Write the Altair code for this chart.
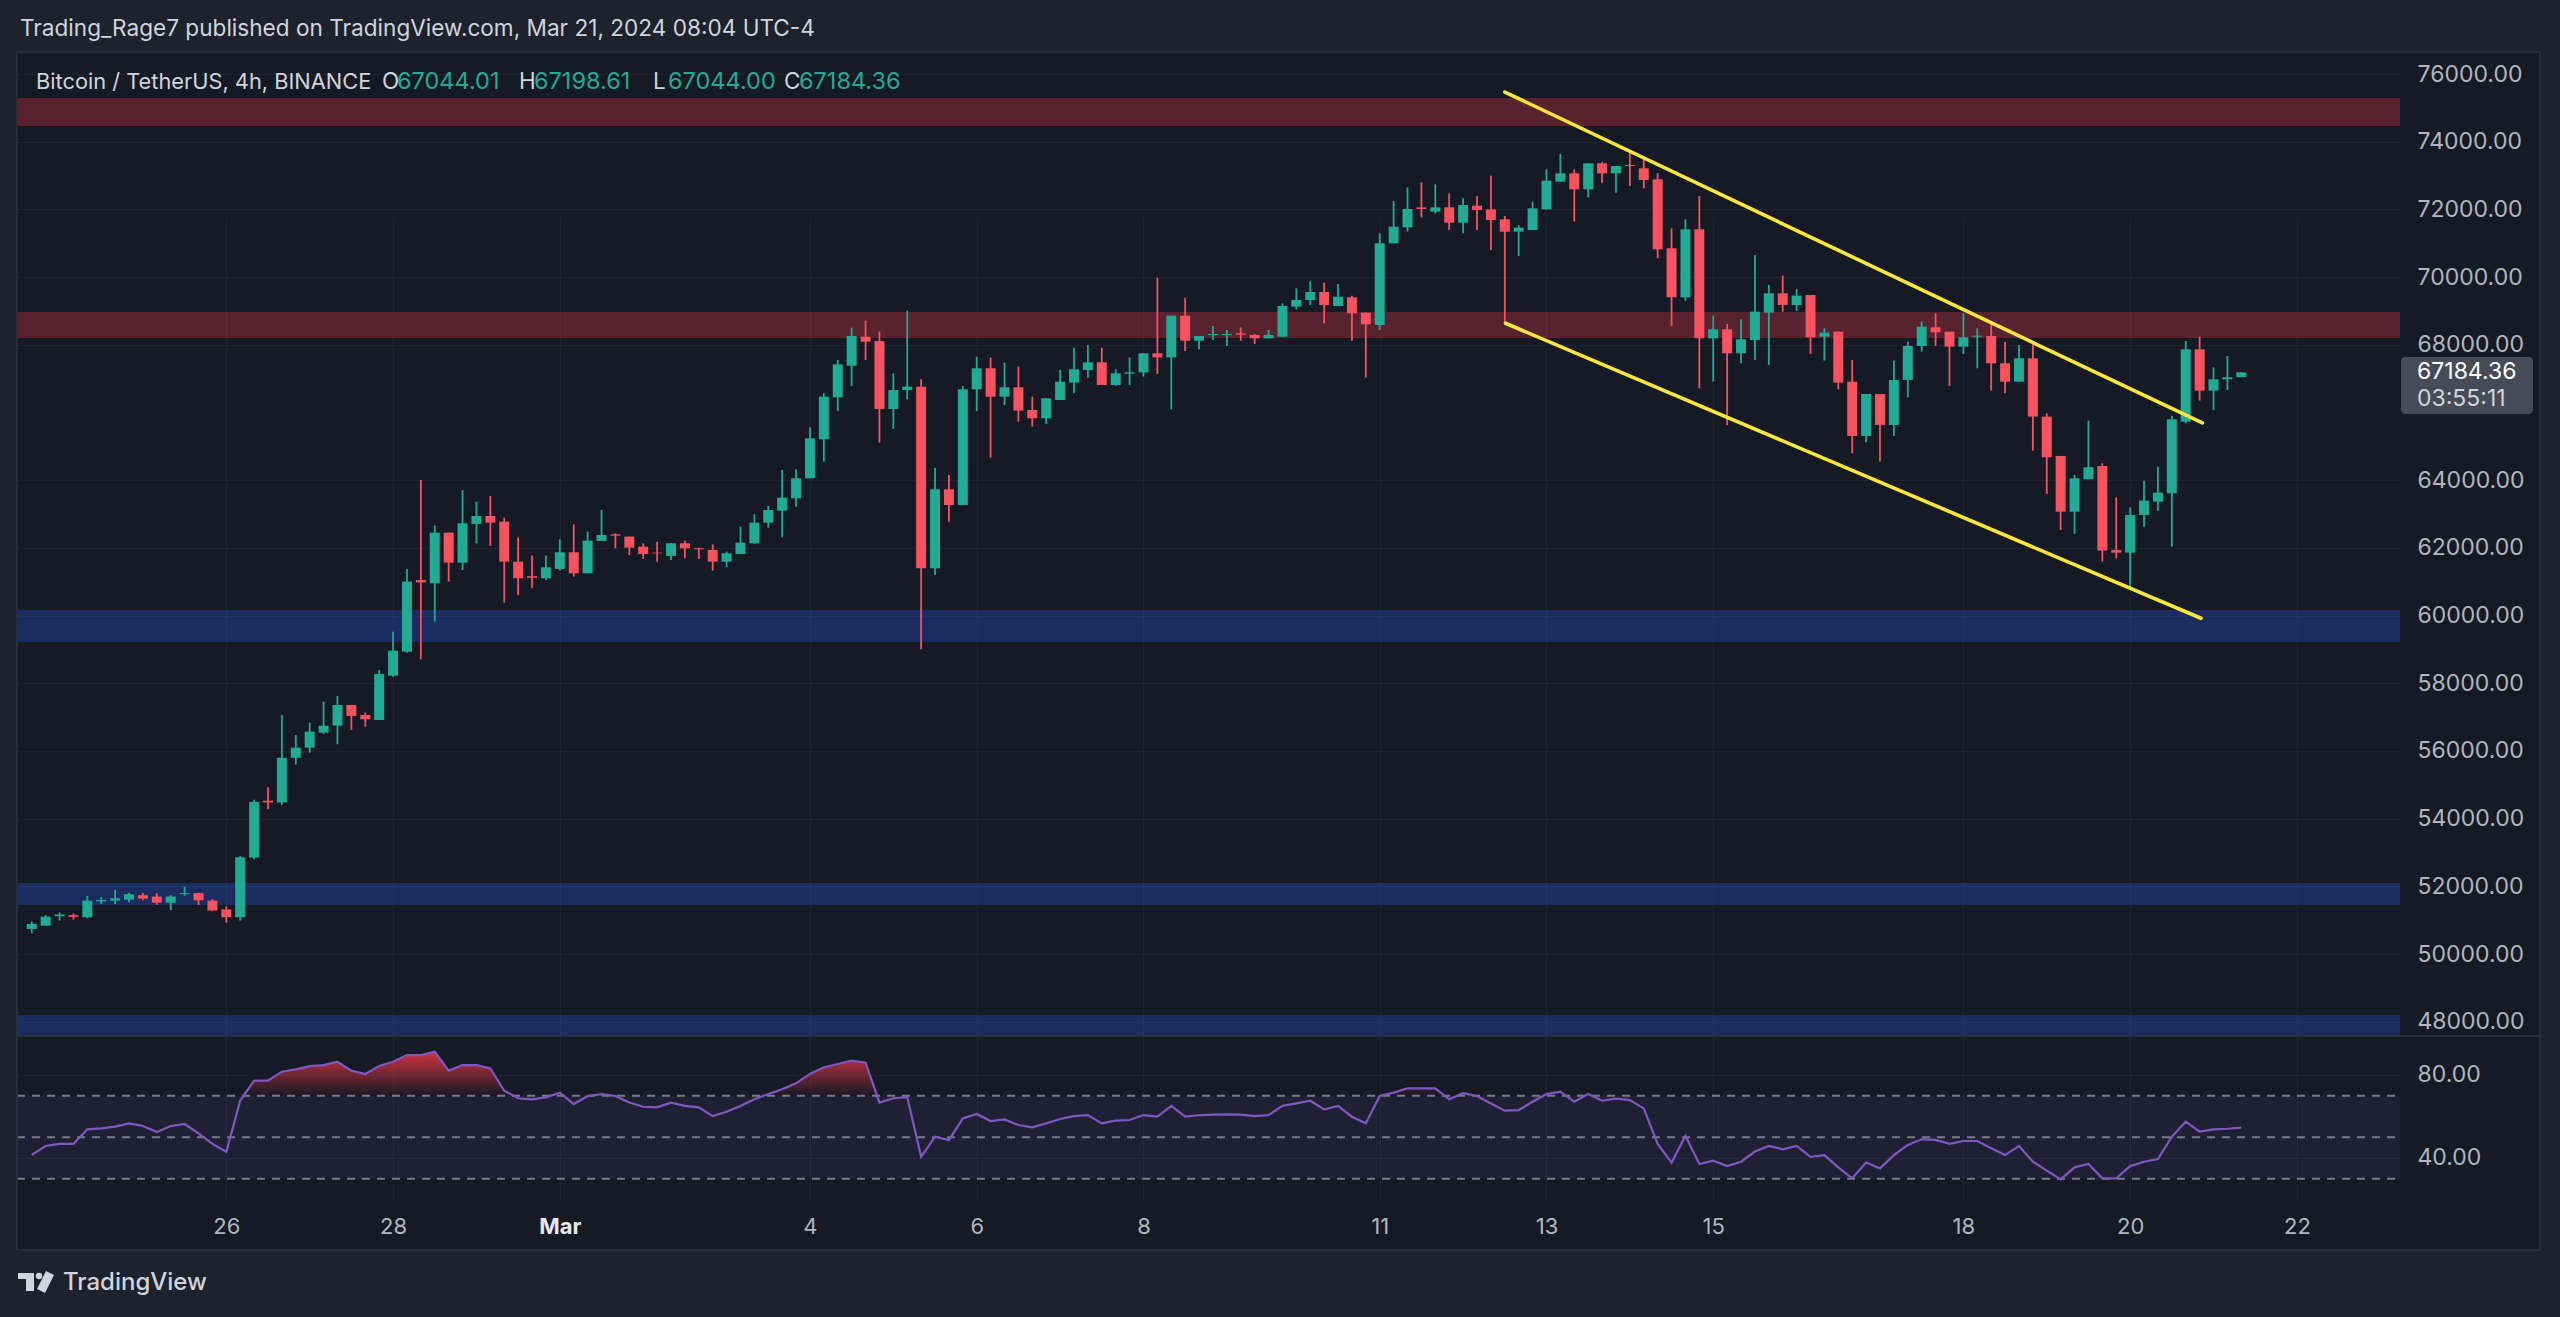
import altair as alt
import pandas as pd

# ---------------- data ----------------
opens = [50743, 50841, 51120, 51150, 51090, 51560, 51580, 51610, 51740, 51700,
         51520, 51770, 51800, 51580, 51320, 51090, 52850, 54530, 54480, 55800,
         56100, 56543, 56749, 57360, 57065, 56917, 58227, 58936, 61050, 60954,
         62451, 61565, 62707, 62943, 62776, 61594, 61160, 61102, 61378, 61870,
         61250, 62205, 62400, 62333, 62037, 61860, 61762, 62136, 61990, 61939,
         61594, 61821, 62136, 62746, 63101, 63465, 64056, 65208, 66448, 67384,
         68240, 68113, 66104, 66665, 66764, 61397, 63730, 63268, 66685, 67305,
         66468, 66744, 66074, 65828, 66370, 66882, 67256, 67482, 66813, 67147,
         67187, 67748, 67630, 68861, 68122, 68290, 68290, 68340, 68290, 68191,
         68240, 69127, 69323, 69560, 69147, 69402, 68950, 68586, 70998, 71471,
         72060, 71933, 72062, 71608, 72111, 72002, 71707, 71343, 71392, 72002,
         72820, 73066, 72593, 73361, 73066, 73312, 73214, 72889, 70850, 69403,
         71412, 68192, 68458, 67749, 68143, 68950, 69521, 69176, 69472, 68241,
         68389, 66912, 65307, 66547, 65632, 66961, 67965, 68517, 68389, 67946,
         68241, 68261, 67453, 66912, 67601, 65878, 64716, 63071, 64027, 64421,
         61940, 61860, 62973, 63367, 63613, 65730, 67867, 66646, 66981, 67044.01]
highs = [50960, 51150, 51230, 51200, 51720, 51680, 51900, 51810, 51810, 51800,
         51750, 51990, 51810, 51620, 51410, 52900, 54560, 54930, 57065, 56474,
         56838, 57459, 57626, 57360, 57134, 58394, 59526, 61378, 64007, 62658,
         62451, 63711, 63367, 63534, 62894, 62313, 61772, 61772, 62254, 62697,
         62481, 63121, 62431, 62333, 62136, 62185, 62136, 62215, 62008, 62106,
         61890, 62628, 62993, 63239, 64302, 64322, 65562, 66567, 67551, 68506,
         68713, 68388, 67157, 69009, 66980, 64371, 64154, 66783, 67650, 67620,
         67472, 67354, 66468, 66419, 67256, 67915, 67994, 67915, 67276, 67630,
         67748, 69983, 68861, 69393, 68260, 68555, 68437, 68516, 68320, 68437,
         69225, 69668, 69885, 69836, 69797, 69452, 68950, 71293, 72249, 72652,
         72800, 72741, 72475, 72327, 72396, 72997, 71805, 71540, 72229, 73184,
         73637, 73184, 73361, 73411, 73283, 73755, 73480, 73066, 71441, 71707,
         72396, 68861, 68615, 68753, 70654, 69767, 70043, 69650, 69472, 68487,
         68389, 67552, 66547, 66547, 67532, 68093, 68684, 68930, 68389, 68930,
         68487, 68635, 68093, 67995, 68113, 65976, 64716, 64155, 65760, 64499,
         63495, 63199, 63987, 64400, 65898, 68113, 68241, 67335, 67670, 67198.61]
lows = [50617, 50830, 50990, 51020, 51060, 51480, 51480, 51530, 51590, 51450,
        51300, 51720, 51450, 51270, 50930, 50990, 52800, 54280, 54400, 55600,
        55950, 56504, 56200, 56622, 56720, 56917, 58197, 58906, 58709, 59822,
        61004, 61348, 62136, 62057, 60383, 60610, 60807, 61053, 61328, 61151,
        61250, 62205, 61988, 61791, 61673, 61594, 61644, 61693, 61673, 61328,
        61427, 61821, 62116, 62599, 62313, 63219, 64056, 64548, 66045, 66783,
        67551, 65109, 65513, 66389, 59004, 61200, 62776, 63268, 66045, 64666,
        66222, 65730, 65582, 65661, 66370, 66566, 67029, 66813, 66793, 66813,
        67059, 67138, 66094, 67817, 67866, 68142, 67965, 68122, 68024, 68191,
        68240, 69048, 69176, 68635, 69147, 68123, 67030, 68438, 70998, 71343,
        71766, 71884, 71392, 71293, 71392, 70801, 68635, 70624, 71392, 71983,
        72820, 71638, 72357, 72790, 72495, 72692, 72623, 70555, 68556, 69304,
        66715, 66911, 65631, 67453, 67552, 67404, 68980, 69000, 67729, 67532,
        66685, 64795, 65120, 64549, 65307, 66449, 67798, 67965, 66784, 67729,
        67306, 66646, 66567, 66912, 64873, 63593, 62530, 62412, 64027, 61594,
        61693, 60807, 62628, 63101, 62037, 65681, 66350, 66075, 66665, 67044.00]
closes = [50891, 51107, 51170, 51100, 51580, 51600, 51650, 51770, 51640, 51520,
          51700, 51800, 51590, 51290, 51090, 52860, 54500, 54480, 55800, 56100,
          56572, 56749, 57360, 57035, 56937, 58276, 58965, 61004, 60980, 62451,
          61565, 62727, 62943, 62746, 61594, 61102, 61120, 61427, 61870, 61250,
          62215, 62382, 62362, 62008, 61821, 61840, 62136, 61988, 61960, 61594,
          61841, 62156, 62746, 63121, 63485, 64056, 65237, 66468, 67423, 68260,
          68093, 66104, 66665, 66764, 61397, 63730, 63268, 66685, 67305, 66468,
          66744, 66055, 65828, 66419, 66911, 67276, 67482, 66813, 67157, 67187,
          67748, 67630, 68861, 68122, 68260, 68320, 68320, 68300, 68191, 68290,
          69146, 69323, 69560, 69176, 69422, 68930, 68605, 70998, 71490, 72012,
          72012, 72060, 71608, 72130, 71983, 71687, 71343, 71460, 72032, 72849,
          73066, 72593, 73361, 73066, 73283, 73283, 72869, 70821, 69403, 71412,
          68192, 68458, 67749, 68162, 68979, 69521, 69176, 69452, 68221, 68359,
          66882, 65307, 66547, 65632, 66961, 67965, 68536, 68369, 67946, 68221,
          68270, 67453, 66912, 67601, 65878, 64677, 63071, 64057, 64381, 61920,
          61860, 62973, 63396, 63633, 65799, 67867, 66646, 66981, 67040, 67184.36]
rsi = [41.5, 45.8, 46.8, 46.8, 53.8, 54.3, 55.1, 56.7, 55.4, 52.5,
       55.4, 56.4, 51.9, 46.8, 43.0, 67.6, 77.3, 77.3, 81.6, 82.7,
       84.3, 84.8, 86.4, 82.1, 80.5, 84.3, 86.4, 89.6, 89.6, 91.2,
       82.1, 84.8, 84.8, 83.2, 72.4, 68.8, 68.3, 69.2, 71.5, 66.0,
       69.9, 70.8, 69.9, 66.7, 64.7, 64.4, 66.7, 65.1, 64.4, 60.2,
       62.3, 65.1, 68.3, 70.8, 73.1, 76.0, 80.5, 83.7, 85.3, 86.9,
       85.9, 66.7, 68.8, 69.3, 40.6, 50.3, 48.7, 59.1, 61.2, 57.8,
       58.6, 55.9, 54.8, 56.7, 58.8, 60.2, 60.7, 56.7, 58.0, 58.3,
       60.7, 59.9, 65.1, 59.9, 60.6, 60.9, 61.0, 60.9, 60.2, 60.7,
       65.1, 66.3, 67.6, 63.4, 65.1, 59.9, 56.7, 69.9, 71.5, 73.6,
       73.6, 73.6, 68.3, 71.2, 69.9, 66.3, 62.8, 63.1, 67.1, 70.8,
       72.0, 67.1, 70.8, 67.6, 68.6, 67.9, 63.9, 46.8, 37.8, 50.6,
       37.1, 38.7, 36.1, 38.2, 43.1, 45.8, 44.2, 45.8, 40.6, 41.4,
       35.5, 30.2, 37.8, 35.0, 41.4, 46.3, 49.0, 48.7, 46.8, 48.2,
       48.2, 44.7, 41.4, 45.8, 38.2, 33.9, 29.7, 35.5, 37.1, 30.2,
       30.2, 36.1, 38.2, 39.5, 50.3, 57.5, 52.7, 53.8, 54.1, 54.6]

tick_index = [14, 26, 38, 56, 68, 80, 97, 109, 121, 139, 151, 163]
tick_label = ["26", "28", "Mar", "4", "6", "8", "11", "13", "15", "18", "20", "22"]
month_tick = 38

zone_lo = [74464, 68201, 59221, 51452, 47610]
zone_hi = [75291, 68969, 60167, 52102, 48203]
zone_kind = ["resistance", "resistance", "support", "support", "support"]

channel_x1 = [106.0, 106.05]
channel_p1 = [75468, 68636]
channel_x2 = [156.2, 156.1]
channel_p2 = [65690, 59921]

# 66000 sits under the current-price tag in the reference, so it is not shown
price_ticks = [v for v in range(48000, 76001, 2000) if v != 66000]
rsi_ticks = [40, 80]
rsi_levels = [70, 50, 30]

header = "Trading_Rage7 published on TradingView.com, Mar 21, 2024 08:04 UTC-4"
symbol = "Bitcoin / TetherUS, 4h, BINANCE"
ohlc_letters = ["O", "H", "L", "C"]
ohlc_values = [opens[-1], highs[-1], lows[-1], closes[-1]]
timer = "03:55:11"

# ---------------- style / layout ----------------
W, H = 2383, 1148
BG = "#161a25"
OUTER = "#1e222d"
BORDER = "#2a2e39"
GRID = "#1f2331"
AXIS_TXT = "#b2b5be"
TXT = "#d1d4dc"
UP = "#22ab94"
DOWN = "#f7525f"
YELLOW = "#fbe73b"
FONT = "Inter"

xscale = alt.Scale(domain=[-0.702, 170.06], nice=False, zero=False)
label_expr = "".join(f"datum.value == {t} ? '{l}' : " for t, l in zip(tick_index, tick_label)) + "''"
x_axis = alt.Axis(values=tick_index, labelExpr=label_expr, title=None, grid=True,
                  gridColor=GRID, gridWidth=1, domain=False, ticks=False, tickSize=0,
                  labelPadding=26, labelBaseline="middle", labelFont=FONT, labelFontSize=22,
                  labelColor={"condition": {"test": f"datum.value == {month_tick}", "value": "#e6e8ee"}, "value": AXIS_TXT},
                  labelFontWeight={"condition": {"test": f"datum.value == {month_tick}", "value": "bold"}, "value": "normal"},
                  labelFlush=False, labelOverlap=False)


def X(field):
    return alt.X(f"{field}:Q", scale=xscale, axis=x_axis)


pscale = alt.Scale(domain=[47610, 76650], range=[983, 0], nice=False, zero=False)
p_axis = alt.Axis(orient="right", values=price_ticks, format=".2f", title=None, grid=True,
                  gridColor=GRID, domain=False, ticks=False, tickSize=0, labelPadding=17,
                  labelFont=FONT, labelFontSize=23, labelColor=AXIS_TXT, labelBaseline="middle",
                  labelFlush=False, labelOverlap=False)


def PY(field):
    return alt.Y(f"{field}:Q", scale=pscale, axis=p_axis)


rscale = alt.Scale(domain=[19.76, 98.31], range=[1148, 985], nice=False, zero=False)
r_axis = alt.Axis(orient="right", values=rsi_ticks, format=".2f", title=None, grid=True,
                  gridColor=GRID, domain=False, ticks=False, tickSize=0, labelPadding=17,
                  labelFont=FONT, labelFontSize=23, labelColor=AXIS_TXT, labelBaseline="middle",
                  labelFlush=False, labelOverlap=False)


def RY(field):
    return alt.Y(f"{field}:Q", scale=rscale, axis=r_axis)


df = pd.DataFrame({"i": list(range(len(opens))), "open": opens, "high": highs,
                   "low": lows, "close": closes, "rsi": rsi})
df["ob"] = df["rsi"].clip(lower=70)
df["base"] = 70
candle_color = alt.condition("datum.close >= datum.open", alt.value(UP), alt.value(DOWN))

zdf = pd.DataFrame({"lo": zone_lo, "hi": zone_hi, "kind": zone_kind})
zones = alt.Chart(zdf).mark_rect().encode(
    x=alt.value(0), x2=alt.value(W), y=PY("lo"), y2="hi",
    color=alt.Color("kind:N", scale=alt.Scale(domain=["resistance", "support"],
                                              range=["rgba(242,54,69,0.30)", "rgba(41,98,255,0.27)"]),
                    legend=None))

wicks = alt.Chart(df).mark_rule(strokeWidth=1.8).encode(x=X("i"), y=PY("low"), y2="high", color=candle_color)
bodies = alt.Chart(df).mark_bar(size=10).encode(x=X("i"), y=PY("open"), y2="close", color=candle_color)

cdf = pd.DataFrame({"cx1": channel_x1, "cp1": channel_p1, "cx2": channel_x2, "cp2": channel_p2})
channel = alt.Chart(cdf).mark_rule(strokeWidth=3.6, color=YELLOW, strokeCap="round").encode(
    x=X("cx1"), x2="cx2", y=PY("cp1"), y2="cp2")

last = closes[-1]
bdf = pd.DataFrame({"top": [last + 455], "bot": [last - 1229], "price": [last],
                    "label": [f"{last:.2f}"], "timer": [timer]})
box = alt.Chart(bdf).mark_rect(color="#474b57", cornerRadius=4).encode(
    x=alt.value(W + 1), x2=alt.value(W + 133), y=PY("top"), y2="bot")
box_t1 = alt.Chart(bdf).mark_text(align="left", baseline="middle", font=FONT, fontSize=23,
                                  color="#ffffff").encode(x=alt.value(W + 17), y=PY("price"), text="label:N")
box_t2 = alt.Chart(bdf).mark_text(align="left", baseline="middle", font=FONT, fontSize=23, dy=27,
                                  color=TXT).encode(x=alt.value(W + 17), y=PY("price"), text="timer:N")

price_group = alt.layer(zones, wicks, bodies, channel, box, box_t1, box_t2)

band = alt.Chart(pd.DataFrame({"lo": [30], "hi": [70]})).mark_rect(color="#7e57c2", opacity=0.1).encode(
    x=alt.value(0), x2=alt.value(W), y=RY("lo"), y2="hi")
levels = alt.Chart(pd.DataFrame({"v": rsi_levels})).mark_rule(
    color="#787b86", strokeDash=[8, 7], strokeWidth=1.8).encode(x=alt.value(0), x2=alt.value(W), y=RY("v"))
grad = alt.Gradient(gradient="linear",
                    stops=[alt.GradientStop(color="rgba(242,54,69,0.85)", offset=0),
                           alt.GradientStop(color="rgba(242,54,69,0.0)", offset=1)],
                    x1=0, x2=0, y1=0, y2=1)
ob_area = alt.Chart(df).mark_area(color=grad).encode(x=X("i"), y=RY("ob"), y2="base")
rsi_line = alt.Chart(df).mark_line(color="#7e57c2", strokeWidth=2.2).encode(x=X("i"), y=RY("rsi"))
rsi_group = alt.layer(band, levels, ob_area, rsi_line)

one = pd.DataFrame({"t": [""]})


def rect(x, x2, y, y2, color):
    return alt.Chart(one).mark_rect(color=color).encode(
        x=alt.value(x), x2=alt.value(x2), y=alt.value(y), y2=alt.value(y2))


def label(text, x, y, color, size=21, weight="normal"):
    return alt.Chart(pd.DataFrame({"t": [text]})).mark_text(
        align="left", baseline="middle", font=FONT, fontSize=size, fontWeight=weight, color=color
    ).encode(x=alt.value(x), y=alt.value(y), text="t:N")


decor = [
    rect(-17, 2543, -52, 0, OUTER),
    rect(-17, 0, 0, 1198, OUTER),
    rect(2523, 2543, 0, 1198, OUTER),
    rect(-17, 2543, 1198, 1265, OUTER),
    alt.Chart(one).mark_rect(fillOpacity=0, stroke=BORDER, strokeWidth=2).encode(
        x=alt.value(0), x2=alt.value(2523), y=alt.value(0), y2=alt.value(1198)),
    alt.Chart(one).mark_rule(color=BORDER, strokeWidth=2).encode(
        x=alt.value(0), x2=alt.value(2523), y=alt.value(984)),
    label(header, 3, -23, TXT, size=22.6),
    label(symbol, 19, 30, TXT, size=21.8),
]
letter_x = [365, 502, 636, 767]
for lt, val, lx in zip(ohlc_letters, ohlc_values, letter_x):
    decor.append(label(lt, lx, 30, TXT, size=22.5))
    decor.append(label(f"{val:.2f}", lx + 15, 30, UP, size=23.5))

# TradingView logo + wordmark
decor += [
    rect(1, 17, 1221, 1227, TXT),
    rect(9, 17, 1221, 1239, TXT),
    alt.Chart(one).mark_point(filled=True, size=40, color=TXT, opacity=1).encode(
        x=alt.value(22), y=alt.value(1224)),
    alt.Chart(one).mark_rule(color=TXT, strokeWidth=9).encode(
        x=alt.value(33), y=alt.value(1221), x2=alt.value(24), y2=alt.value(1239)),
    label("TradingView", 46, 1231, TXT, size=24, weight=500),
]

chart = alt.layer(price_group, rsi_group, *decor).resolve_scale(y="independent").properties(
    width=W, height=H,
    autosize=alt.AutoSizeParams(type="none"),
    padding={"left": 17, "top": 52, "right": 160, "bottom": 117},
    background=BG,
).configure_view(stroke=None)

chart.save("out.html", embed_options={"renderer": "svg", "actions": False})
